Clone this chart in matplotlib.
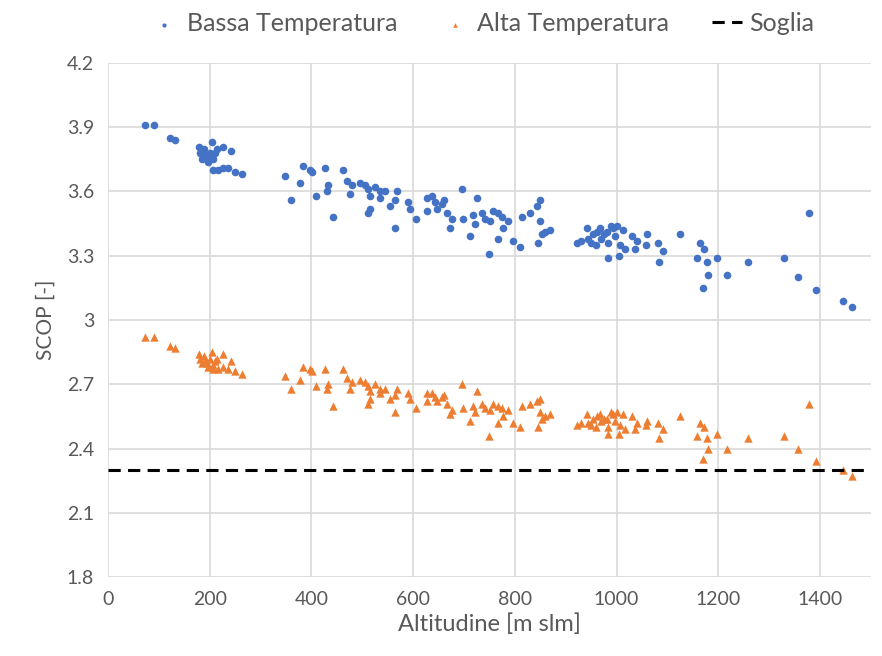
import matplotlib
matplotlib.use("Agg")
import matplotlib.pyplot as plt
from matplotlib.ticker import FuncFormatter, MultipleLocator

# Altitude of each site [m slm]
altitude = [
    73, 90, 122, 132, 179, 204, 214, 226, 242, 181, 191, 200, 210, 185, 195, 206,
    188, 197, 207, 216, 226, 236, 250, 263, 348, 360, 384, 397, 401, 378, 427, 433,
    430, 409, 443, 462, 470, 480, 476, 496, 506, 512, 515, 525, 534, 545, 535, 515,
    512, 568, 564, 554, 564, 590, 594, 605, 627, 637, 643, 647, 656, 661, 666, 676,
    672, 627, 696, 698, 725, 718, 722, 712, 735, 741, 751, 757, 767, 775, 777, 767,
    786, 749, 796, 810, 814, 830, 843, 849, 849, 859, 869, 853, 845, 922, 941, 944,
    954, 961, 967, 981, 983, 983, 993, 997, 1007, 1013, 1030, 1036, 1040, 1060, 1058,
    1017, 1081, 1091, 1083, 1125, 1164, 1172, 1158, 1178, 1197, 1180, 1170, 1217,
    1258, 1329, 1357, 1378, 1392, 1445, 1463, 930, 950, 970, 990, 1000, 1005, 960, 975,
]

# SCOP, low temperature emitters
scop_bassa = [
    3.91, 3.91, 3.85, 3.84, 3.81, 3.83, 3.80, 3.81, 3.79, 3.78, 3.77, 3.78, 3.78, 3.75, 3.76, 3.75,
    3.80, 3.74, 3.70, 3.70, 3.71, 3.71, 3.69, 3.68, 3.67, 3.56, 3.72, 3.70, 3.69, 3.64, 3.71, 3.63,
    3.60, 3.58, 3.48, 3.70, 3.65, 3.63, 3.59, 3.64, 3.63, 3.61, 3.58, 3.62, 3.60, 3.60, 3.57, 3.52,
    3.50, 3.60, 3.56, 3.53, 3.43, 3.55, 3.52, 3.47, 3.57, 3.58, 3.55, 3.52, 3.54, 3.56, 3.50, 3.47,
    3.43, 3.51, 3.61, 3.47, 3.57, 3.49, 3.45, 3.39, 3.50, 3.47, 3.46, 3.51, 3.50, 3.48, 3.43, 3.38,
    3.46, 3.31, 3.37, 3.34, 3.48, 3.50, 3.53, 3.56, 3.46, 3.41, 3.42, 3.40, 3.36, 3.36, 3.43, 3.38,
    3.40, 3.41, 3.43, 3.41, 3.36, 3.29, 3.43, 3.39, 3.35, 3.42, 3.39, 3.33, 3.37, 3.40, 3.35,
    3.33, 3.36, 3.32, 3.27, 3.40, 3.36, 3.33, 3.29, 3.27, 3.29, 3.21, 3.15, 3.21,
    3.27, 3.29, 3.20, 3.50, 3.14, 3.09, 3.06, 3.37, 3.36, 3.38, 3.44, 3.44, 3.30, 3.35, 3.40,
]

# SCOP, high temperature emitters
scop_alta = [
    2.92, 2.92, 2.88, 2.87, 2.84, 2.85, 2.82, 2.84, 2.81, 2.82, 2.81, 2.82, 2.81, 2.80, 2.80, 2.79,
    2.83, 2.78, 2.77, 2.77, 2.78, 2.77, 2.76, 2.75, 2.74, 2.68, 2.78, 2.77, 2.76, 2.72, 2.77, 2.70,
    2.68, 2.69, 2.60, 2.77, 2.73, 2.71, 2.68, 2.72, 2.71, 2.69, 2.67, 2.70, 2.68, 2.68, 2.66, 2.63,
    2.61, 2.68, 2.65, 2.63, 2.57, 2.66, 2.63, 2.59, 2.66, 2.66, 2.64, 2.62, 2.64, 2.65, 2.61, 2.58,
    2.56, 2.62, 2.70, 2.59, 2.67, 2.60, 2.57, 2.53, 2.61, 2.59, 2.58, 2.61, 2.60, 2.59, 2.55, 2.52,
    2.58, 2.46, 2.52, 2.50, 2.60, 2.61, 2.62, 2.63, 2.57, 2.55, 2.56, 2.54, 2.50, 2.51, 2.56, 2.52,
    2.54, 2.55, 2.56, 2.54, 2.50, 2.47, 2.56, 2.53, 2.51, 2.56, 2.55, 2.49, 2.52, 2.53, 2.51,
    2.49, 2.52, 2.49, 2.45, 2.55, 2.52, 2.50, 2.46, 2.45, 2.47, 2.40, 2.35, 2.40,
    2.45, 2.46, 2.40, 2.61, 2.34, 2.30, 2.27, 2.52, 2.51, 2.53, 2.57, 2.57, 2.47, 2.50, 2.54,
]

soglia = 2.3
x_range = [0, 1500]

plt.rcParams['font.family'] = ['Lato', 'DejaVu Sans']

fig = plt.figure(figsize=(8.82, 6.56), dpi=100)
ax = fig.add_axes([0.1224, 0.1204, 0.865, 0.7836])

blue = '#4472C4'
orange = '#ED7D31'
grid_c = '#D9D9D9'
text_c = '#595959'

ax.scatter(altitude, scop_bassa, s=30, marker='o', color=blue, linewidths=0,
           label='Bassa Temperatura', zorder=3)
ax.scatter(altitude, scop_alta, s=36, marker='^', color=orange, linewidths=0,
           label='Alta Temperatura', zorder=3)
ax.plot(x_range, [soglia, soglia], color='black', linestyle=(0, (4, 2.4)),
        linewidth=2.2, label='Soglia', zorder=4)

ax.set_xlim(0, 1500)
ax.set_ylim(1.8, 4.2)
ax.set_xticks(range(0, 1401, 200))
ax.yaxis.set_major_locator(MultipleLocator(0.3))
ax.yaxis.set_major_formatter(FuncFormatter(lambda v, p: f'{round(v, 2):g}'))

ax.grid(True, color=grid_c, linewidth=1.2, zorder=0)
ax.set_axisbelow(True)
for sp in ax.spines.values():
    sp.set_visible(False)
ax.tick_params(length=0, labelsize=14, labelcolor=text_c, pad=10)

ax.set_xlabel('Altitudine [m slm]', fontsize=17, color=text_c, labelpad=4)
ax.set_ylabel('SCOP [-]', fontsize=15, color=text_c, labelpad=8)

leg = ax.legend(loc='lower center', bbox_to_anchor=(0.49, 1.025), ncol=3,
                frameon=False, fontsize=18, handlelength=1.2, handletextpad=0.3,
                columnspacing=1.7, markerscale=0.55, borderaxespad=0.2)
for t in leg.get_texts():
    t.set_color(text_c)

fig.savefig('out.png', dpi=100, facecolor='white')
